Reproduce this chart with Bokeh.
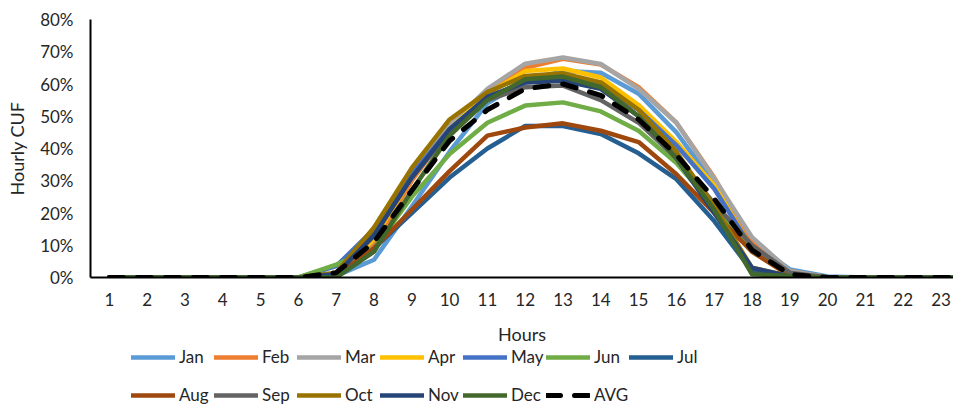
from bokeh.plotting import figure
from bokeh.layouts import column
from bokeh.models import ColumnDataSource, Legend, LegendItem, FixedTicker, NumeralTickFormatter, Range1d
from bokeh.embed import file_html
from bokeh.resources import INLINE

hours = list(range(1, 25))
month_names = ["Jan", "Feb", "Mar", "Apr", "May", "Jun", "Jul", "Aug", "Sep", "Oct", "Nov", "Dec", "AVG"]
month_colors = ["#5B9BD5", "#ED7D31", "#A5A5A5", "#FFC000", "#4472C4", "#70AD47", "#255E91",
                "#9E480E", "#636363", "#997300", "#264478", "#43682B", "#000000"]

# Hourly CUF in percent, hours 1..24
jan = [0, 0, 0, 0, 0, 0, 0.5, 5.5, 22, 39, 54, 61, 64, 63.5, 57, 45, 29, 11, 2.5, 0.3, 0, 0, 0, 0]
feb = [0, 0, 0, 0, 0, 0, 0.5, 10, 30, 46, 58, 65, 67.8, 66, 59, 48, 31, 11, 2, 0, 0, 0, 0, 0]
mar = [0, 0, 0, 0, 0, 0, 0.5, 12, 32, 47, 58.5, 66.3, 68.2, 66.2, 58.5, 48, 30.7, 12.5, 2, 0, 0, 0, 0, 0]
apr = [0, 0, 0, 0, 0, 0, 1, 12, 31, 46, 57, 64, 64.8, 62, 53.5, 42, 28.5, 9, 1, 0, 0, 0, 0, 0]
may = [0, 0, 0, 0, 0, 0, 3.5, 15, 32, 46, 56, 60.5, 62, 59.5, 52, 41, 27.5, 9, 1, 0, 0, 0, 0, 0]
jun = [0, 0, 0, 0, 0, 0, 4, 9, 25, 38.3, 48, 53.3, 54.3, 51.5, 45.5, 35.5, 22, 8, 1, 0, 0, 0, 0, 0]
jul = [0, 0, 0, 0, 0, 0, 0.5, 9, 20, 31, 40, 47, 47, 44.5, 38.5, 30.5, 17.5, 2, 0.3, 0, 0, 0, 0, 0]
aug = [0, 0, 0, 0, 0, 0, 0.5, 9, 21, 33, 44, 46.5, 47.8, 45.5, 42, 32, 20, 8, 0.5, 0, 0, 0, 0, 0]
sep = [0, 0, 0, 0, 0, 0, 1, 14, 31, 45, 55, 59, 59.5, 55, 48, 37, 23, 10, 1.5, 0, 0, 0, 0, 0]
oct = [0, 0, 0, 0, 0, 0, 1.5, 15.5, 34, 49, 57.5, 62.5, 63.3, 60.5, 52, 39, 22, 3, 0.5, 0, 0, 0, 0, 0]
nov = [0, 0, 0, 0, 0, 0, 1, 13, 31, 46, 56, 60.5, 61, 58.5, 50, 37, 20, 3, 0.3, 0, 0, 0, 0, 0]
dec = [0, 0, 0, 0, 0, 0, 0, 8, 27, 44, 55, 61.5, 62.3, 59, 50, 37, 21, 1, 0.5, 0, 0, 0, 0, 0]
avg = [0, 0, 0, 0, 0, 0, 1.5, 11, 27, 42.4, 52, 58.5, 60, 56.5, 49, 38, 24.4, 8.5, 1, 0, 0, 0, 0, 0]

series = [jan, feb, mar, apr, may, jun, jul, aug, sep, oct, nov, dec, avg]

FONT = "Lato"
TXT = "#262626"
W = 953
H_CHART = 347
H_LEG = 58


def line_style(name, col):
    if name == "AVG":
        return dict(line_color=col, line_width=5, line_dash="14 14", line_cap="round", line_join="round")
    return dict(line_color=col, line_width=4.5, line_cap="round", line_join="round")


p = figure(width=W, height=H_CHART, output_backend="svg", toolbar_location=None,
           x_range=Range1d(0.5, 23.33), y_range=Range1d(0, 0.8),
           min_border_left=90, min_border_right=0, min_border_top=19, min_border_bottom=69)
p.outline_line_color = None
p.xgrid.grid_line_color = None
p.ygrid.grid_line_color = None

for name, vals, col in zip(month_names, series, month_colors):
    src = ColumnDataSource(dict(x=hours, y=[v / 100.0 for v in vals]))
    p.line("x", "y", source=src, **line_style(name, col))

# axes
p.xaxis.ticker = FixedTicker(ticks=hours)
p.yaxis.ticker = FixedTicker(ticks=[i / 10.0 for i in range(9)])
p.yaxis.formatter = NumeralTickFormatter(format="0%")
for ax in (p.xaxis[0], p.yaxis[0]):
    ax.axis_line_color = "#000000"
    ax.axis_line_width = 2
    ax.major_tick_line_color = None
    ax.minor_tick_line_color = None
    ax.major_tick_out = 0
    ax.major_tick_in = 0
    ax.minor_tick_out = 0
    ax.minor_tick_in = 0
    ax.major_label_text_font = FONT
    ax.major_label_text_font_size = "17px"
    ax.major_label_text_color = TXT
    ax.axis_label_text_font = FONT
    ax.axis_label_text_font_size = "18px"
    ax.axis_label_text_font_style = "normal"
    ax.axis_label_text_color = TXT
p.xaxis.axis_label = "Hours"
p.yaxis.axis_label = "Hourly CUF"
p.xaxis.major_label_standoff = 15
p.xaxis.axis_label_standoff = 14
p.yaxis.major_label_standoff = 17
p.yaxis.axis_label_standoff = 9

# legend strip below the chart (its frame lines up with the chart frame)
lg = figure(width=W, height=H_LEG, output_backend="svg", toolbar_location=None,
            x_range=Range1d(0, 1), y_range=Range1d(0, 1),
            x_axis_type=None, y_axis_type=None,
            min_border_left=0, min_border_right=0, min_border_top=0, min_border_bottom=0)
lg.outline_line_color = None
lg.xgrid.grid_line_color = None
lg.ygrid.grid_line_color = None

leg_renderers = []
for name, col in zip(month_names, month_colors):
    # key-only renderers: their points lie outside the visible range
    src = ColumnDataSource(dict(x=[-5.0, -4.0], y=[-5.0, -5.0]))
    leg_renderers.append(lg.line("x", "y", source=src, **line_style(name, col)))


def make_legend(idx, loc):
    items = [LegendItem(label=month_names[i], renderers=[leg_renderers[i]]) for i in idx]
    return Legend(items=items, orientation="horizontal", location=loc,
                  padding=0, margin=0, spacing=2, glyph_width=44, glyph_height=20,
                  label_standoff=4, label_width=33, label_height=20,
                  label_text_font=FONT, label_text_font_size="17px", label_text_color=TXT,
                  border_line_color=None, background_fill_alpha=0)


lg.add_layout(make_legend(range(0, 7), (41, 38)))
lg.add_layout(make_legend(range(7, 13), (41, 0)))

layout = column(p, lg, spacing=0)
open("out.html", "w").write(file_html(layout, INLINE))
